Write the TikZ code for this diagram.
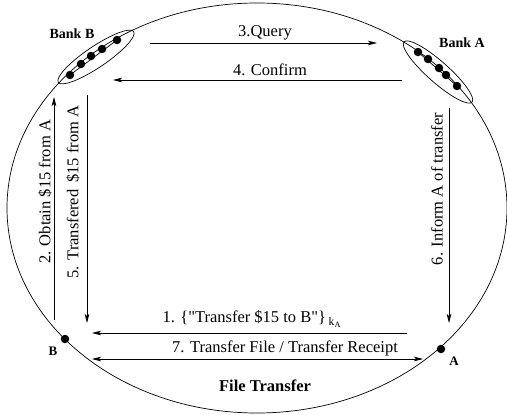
\documentclass[tikz,border=0pt]{standalone}
\usepackage{fontspec}
\setmainfont{Liberation Serif}
\usetikzlibrary{shapes.geometric,arrows.meta}
\begin{document}
\begin{tikzpicture}[x=1pt,y=-1pt,
  ln/.style={line width=0.7pt},
  arr/.style={ln,-{Stealth[length=9pt,width=4.5pt,inset=2pt]}},
  darr/.style={ln,{Stealth[length=9pt,width=4.5pt,inset=2pt]}-{Stealth[length=9pt,width=4.5pt,inset=2pt]}},
  lbl/.style={font=\fontsize{16.5}{18}\selectfont, inner sep=0pt},
  blbl/.style={font=\fontsize{14}{16}\selectfont\bfseries, inner sep=0pt},
  dot/.style={circle, fill=black, inner sep=0pt, minimum size=8.5pt},
  bank/.style={ellipse, draw, ln, inner sep=0pt, minimum width=91pt, minimum height=21pt}]
\useasboundingbox (0,0) rectangle (507,415);
% big ellipse
\node[ellipse, draw, ln, minimum width=500pt, minimum height=410pt, inner sep=0pt] (world) at (257,208) {};
% banks
\node[bank, rotate=34] (bankB) at (96,57) {};
\node[bank, rotate=-41.5] (bankA) at (438,72) {};
\node[dot] (b1) at (70,75) {};
\node[dot] (b2) at (81,64) {};
\node[dot] (b3) at (91,56) {};
\node[dot] (b4) at (102,49) {};
\node[dot] (b5) at (117,40) {};
\draw[ln] (b1.center) -- (b5.center);
\node[dot] (a1) at (418,52) {};
\node[dot] (a2) at (428,59) {};
\node[dot] (a3) at (439,68) {};
\node[dot] (a4) at (446,75) {};
\node[dot] (a5) at (457,86) {};
\draw[ln] (a1.center) -- (a5.center);
\node[blbl] (lbB) at (72,34) {Bank B};
\node[blbl] (lbA) at (462,43) {Bank A};
% endpoints
\node[dot] (pB) at (65,339) {};
\node[dot] (pA) at (441,349) {};
\node[font=\fontsize{13}{15}\selectfont\bfseries, inner sep=0pt] (lB) at (53,351) {B};
\node[font=\fontsize{13}{15}\selectfont\bfseries, inner sep=0pt] (lA) at (454,361) {A};
% arrow coordinates
\coordinate (q1) at (150,43); \coordinate (q2) at (377,43);
\coordinate (c1) at (402,80); \coordinate (c2) at (113,80);
\coordinate (o1) at (54,320); \coordinate (o2) at (54,97);
\coordinate (t1) at (87,95); \coordinate (t2) at (87,323);
\coordinate (i1) at (449,108); \coordinate (i2) at (449,323);
\coordinate (m1) at (407,333); \coordinate (m2) at (92,333);
\coordinate (f1) at (92,359); \coordinate (f2) at (423,359);
\draw[arr] (q1) -- (q2);
\draw[arr] (c1) -- (c2);
\draw[arr] (o1) -- (o2);
\draw[arr] (t1) -- (t2);
\draw[arr] (i1) -- (i2);
\draw[arr] (m1) -- (m2);
\draw[darr] (f1) -- (f2);
% labels
\node[lbl] (L3) at (265,33) {3.Query};
\node[lbl] (L4) at (270,70) {4. Confirm};
\node[lbl, rotate=90] (L2) at (45,192) {2. Obtain \$15 from A};
\node[lbl, rotate=90] (L5) at (73,192) {5. Transfered\, \$15 from A};
\node[lbl, rotate=90] (L6) at (437,189) {6. Inform A of transfer};
\node[lbl] (L1) at (252,319) {1. \{\textquotedbl Transfer \$15 to B\textquotedbl\}\,$_{\mathrm{k}_{\mathrm{A}}}$};
\node[lbl] (L7) at (285,348) {7. Transfer File / Transfer Receipt};
\node[font=\fontsize{16.5}{18}\selectfont\bfseries, inner sep=0pt] (LF) at (265,386) {File Transfer};
\end{tikzpicture}
\end{document}
